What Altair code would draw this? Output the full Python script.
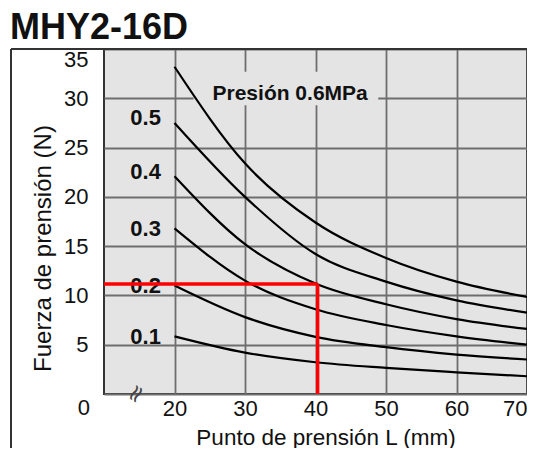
import altair as alt
import pandas as pd

# ---- data ----
L_points = [20, 30, 40, 50, 60, 70]
pressures = ["0.6", "0.5", "0.4", "0.3", "0.2", "0.1"]
force_06 = [33.2, 23.4, 17.4, 13.8, 11.4, 9.85]
force_05 = [27.5, 20.0, 14.2, 11.4, 9.5, 8.25]
force_04 = [22.1, 15.2, 11.2, 9.1, 7.6, 6.6]
force_03 = [16.8, 11.5, 8.6, 7.0, 5.85, 5.0]
force_02 = [11.0, 7.8, 5.8, 4.75, 4.0, 3.5]
force_01 = [5.85, 4.2, 3.22, 2.65, 2.2, 1.8]

curve_labels = ["0.5", "0.4", "0.3", "0.2", "0.1"]
curve_label_L = [15.9, 15.9, 15.9, 15.9, 15.9]
curve_label_F = [28.05, 22.5, 16.7, 10.95, 5.8]

main_label = "Presión 0.6MPa"
main_label_L = 36.4
main_label_F = 30.4
main_box_L = [22.7, 48.9]
main_box_F = [29.3, 32.7]

example_L = 40.3
example_F = 11.15

chart_title = "MHY2-16D"
x_ticks = [20, 30, 40, 50, 60, 70]
y_ticks = [5, 10, 15, 20, 25, 30, 35]
x_domain = [10, 70]
y_domain = [0, 35]

W, H = 423, 345
FONT = "Liberation Sans"
BG = "#e4e4e4"

# ---- tables ----
all_forces = [force_06, force_05, force_04, force_03, force_02, force_01]
curves = pd.DataFrame(
    [{"L": l, "F": f, "p": p} for p, fs in zip(pressures, all_forces) for l, f in zip(L_points, fs)]
)
labels_df = pd.DataFrame({"t": curve_labels, "L": curve_label_L, "F": curve_label_F})
main_df = pd.DataFrame({"t": [main_label], "L": [main_label_L], "F": [main_label_F]})
box_df = pd.DataFrame({"L": [main_box_L[0]], "L2": [main_box_L[1]], "F": [main_box_F[0]], "F2": [main_box_F[1]]})
red_df = pd.DataFrame({
    "L": [x_domain[0], example_L], "L2": [example_L, example_L],
    "F": [example_F, 0], "F2": [example_F, example_F],
})
zero_df = pd.DataFrame({"t": ["0"], "F": [0]})
brk_df = pd.DataFrame({"t": ["≈"], "L": [14.6], "F": [0]})
title_df = pd.DataFrame({"t": [chart_title]})

xscale = alt.Scale(domain=x_domain, nice=False, zero=False)
yscale = alt.Scale(domain=y_domain, nice=False, zero=False)
xaxis = alt.Axis(values=x_ticks, grid=True, domain=False, ticks=False, tickSize=0,
                 labelPadding=4, title="Punto de prensión L (mm)",
                 titleX=221.5, titleY=50, titleBaseline="alphabetic", titleAlign="center")
yaxis = alt.Axis(values=y_ticks + [0], grid=True, domain=False, ticks=False, tickSize=0,
                 labelPadding=16, labelFlush=True, labelFlushOffset=0,
                 labelExpr="datum.value == 0 ? '' : datum.label",
                 title="Fuerza de prensión (N)", titleAngle=270,
                 titleX=-54, titleY=199, titleBaseline="alphabetic", titleAlign="center",
                 titleFontSize=24)


def X(field):
    return alt.X(f"{field}:Q", scale=xscale, axis=xaxis)


def Y(field):
    return alt.Y(f"{field}:Q", scale=yscale, axis=yaxis)


box = alt.Chart(box_df).mark_rect(fill=BG).encode(
    x=X("L"), x2="L2", y=Y("F"), y2="F2"
)

lines = alt.Chart(curves).mark_line(color="black", strokeWidth=2.2, interpolate="monotone").encode(
    x=X("L"), y=Y("F"), detail="p:N"
)

lbls = alt.Chart(labels_df).mark_text(font=FONT, fontSize=22, fontWeight="bold",
                                      color="#111", baseline="middle", align="center").encode(
    x=X("L"), y=Y("F"), text="t:N"
)

main_lbl = alt.Chart(main_df).mark_text(font=FONT, fontSize=21, fontWeight="bold",
                                        color="#111", baseline="middle", align="center").encode(
    x=X("L"), y=Y("F"), text="t:N"
)

red = alt.Chart(red_df).mark_rule(color="#ff0000", strokeWidth=3.5).encode(
    x=X("L"), x2="L2", y=Y("F"), y2="F2"
)

zero_lbl = alt.Chart(zero_df).mark_text(font=FONT, fontSize=22, color="#111",
                                        align="right", baseline="middle", dy=14).encode(
    x=alt.value(-14), y=Y("F"), text="t:N"
)

brk = alt.Chart(brk_df).mark_text(font="DejaVu Sans", fontSize=24, color="#444", angle=300,
                                  baseline="middle", align="center").encode(
    x=X("L"), y=Y("F"), text="t:N"
)

frame_v = alt.Chart(zero_df).mark_rule(color="#333", strokeWidth=2).encode(
    x=alt.value(-93), y=alt.value(0), y2=alt.value(H + 70)
)
frame_h = alt.Chart(zero_df).mark_rule(color="#333", strokeWidth=2).encode(
    x=alt.value(-93), x2=alt.value(W + 20), y=alt.value(0)
)

title_txt = alt.Chart(title_df).mark_text(font=FONT, fontSize=36, fontWeight="bold", color="#111",
                                          align="left", baseline="alphabetic").encode(
    x=alt.value(-94), y=alt.value(-10), text="t:N"
)

chart = alt.layer(box, lines, lbls, main_lbl, red, zero_lbl, brk, frame_v, frame_h, title_txt).properties(
    width=W, height=H,
    autosize=alt.AutoSizeParams(type="none"),
    padding={"left": 96, "top": 41, "right": 0, "bottom": 54},
).configure_view(
    fill=BG, stroke="#333", strokeWidth=2
).configure_axis(
    labelFont=FONT, labelFontSize=22, labelColor="#111",
    titleFont=FONT, titleFontSize=22.5, titleColor="#111", titleFontWeight="normal",
    gridColor="#6e6e6e", gridWidth=1.8, gridOpacity=1
)

chart.save("out.html", embed_options={"renderer": "svg", "actions": False})
